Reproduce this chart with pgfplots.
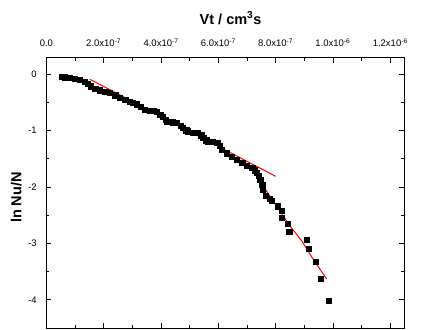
\documentclass[border=0pt]{standalone}
\usepackage{fontspec}
\setmainfont{Liberation Sans}
\usepackage{pgfplots}
\pgfplotsset{compat=1.18}
\begin{document}
\begin{tikzpicture}
\begin{axis}[
  scale only axis,
  width=357.6pt, height=270pt,
  xmin=0, xmax=12.48, ymin=-4.5, ymax=0.29,
  axis line style={line width=1pt},
  every tick/.style={black, line width=0.8pt},
  major tick length=5pt, minor tick length=3pt,
  tick align=inside,
  xtick={0,2,4,6,8,10,12},
  minor xtick={1,3,5,7,9,11},
  xticklabels={0.0,2.0x10\textsuperscript{-7},4.0x10\textsuperscript{-7},6.0x10\textsuperscript{-7},8.0x10\textsuperscript{-7},1.0x10\textsuperscript{-6},1.2x10\textsuperscript{-6}},
  xticklabel pos=right,
  xticklabel style={font=\fontsize{9.5}{10}\selectfont, anchor=base, inner sep=0pt, yshift=11pt},
  ytick={-4,-3,-2,-1,0},
  minor ytick={-4.5,-3.5,-2.5,-1.5,-0.5},
  yticklabels={-4,-3,-2,-1,0},
  yticklabel style={font=\fontsize{9.5}{10}\selectfont, anchor=east, inner sep=0pt, xshift=-9.5pt},
  xlabel={\textbf{Vt / cm\textsuperscript{3}s}},
  xlabel style={font=\fontsize{14.5}{16}\selectfont, at={(axis description cs:0.515,1.148)}, anchor=center},
  ylabel={\textbf{ln Nu/N}},
  ylabel style={font=\fontsize{14.5}{16}\selectfont, at={(axis description cs:-0.084,0.483)}, anchor=center},
  clip=false,
]
\addplot[only marks, mark=square*, mark size=2.6pt, black] coordinates {
(0.53,-0.04) (0.65,-0.05) (0.80,-0.06) (1.00,-0.08) (1.15,-0.09)
(1.35,-0.13) (1.45,-0.17) (1.55,-0.21) (1.70,-0.26) (1.85,-0.28)
(2.05,-0.31) (2.20,-0.33) (2.40,-0.37) (2.55,-0.41) (2.75,-0.45)
(2.90,-0.48) (3.02,-0.51) (3.16,-0.53) (3.30,-0.58) (3.44,-0.63)
(3.60,-0.64) (3.75,-0.65) (3.86,-0.66) (3.97,-0.71) (4.07,-0.75)
(4.15,-0.80) (4.21,-0.84) (4.40,-0.85) (4.56,-0.86) (4.68,-0.91)
(4.77,-0.95) (4.88,-0.99) (4.94,-1.01) (5.10,-1.03) (5.29,-1.04)
(5.40,-1.08) (5.47,-1.12) (5.58,-1.17) (5.64,-1.19) (5.80,-1.20)
(5.96,-1.21) (6.05,-1.27) (6.13,-1.34) (6.30,-1.40) (6.48,-1.46)
(6.65,-1.51) (6.83,-1.57) (7.00,-1.62) (7.18,-1.66) (7.28,-1.70)
(7.35,-1.74) (7.42,-1.80) (7.46,-1.87) (7.53,-1.96) (7.56,-2.04)
(7.66,-2.15) (7.78,-2.20) (7.87,-2.24) (8.08,-2.34) (8.22,-2.42)
(8.22,-2.54) (8.43,-2.65) (8.47,-2.79) (9.09,-2.93) (9.16,-3.10)
(9.41,-3.33) (9.58,-3.62) (9.86,-4.02)
};
\addplot[red, line width=1pt] coordinates {(1.52,-0.088) (8.00,-1.809)};
\addplot[red, line width=1pt] coordinates {(7.07,-1.64) (7.35,-1.81) (7.81,-2.17) (8.50,-2.69) (8.92,-2.96) (9.31,-3.28) (9.78,-3.63)};
\end{axis}
\pgfresetboundingbox
\useasboundingbox ([xshift=-46.4pt,yshift=-1pt]current axis.south west) rectangle ++(422pt,329pt);
\end{tikzpicture}
\end{document}
